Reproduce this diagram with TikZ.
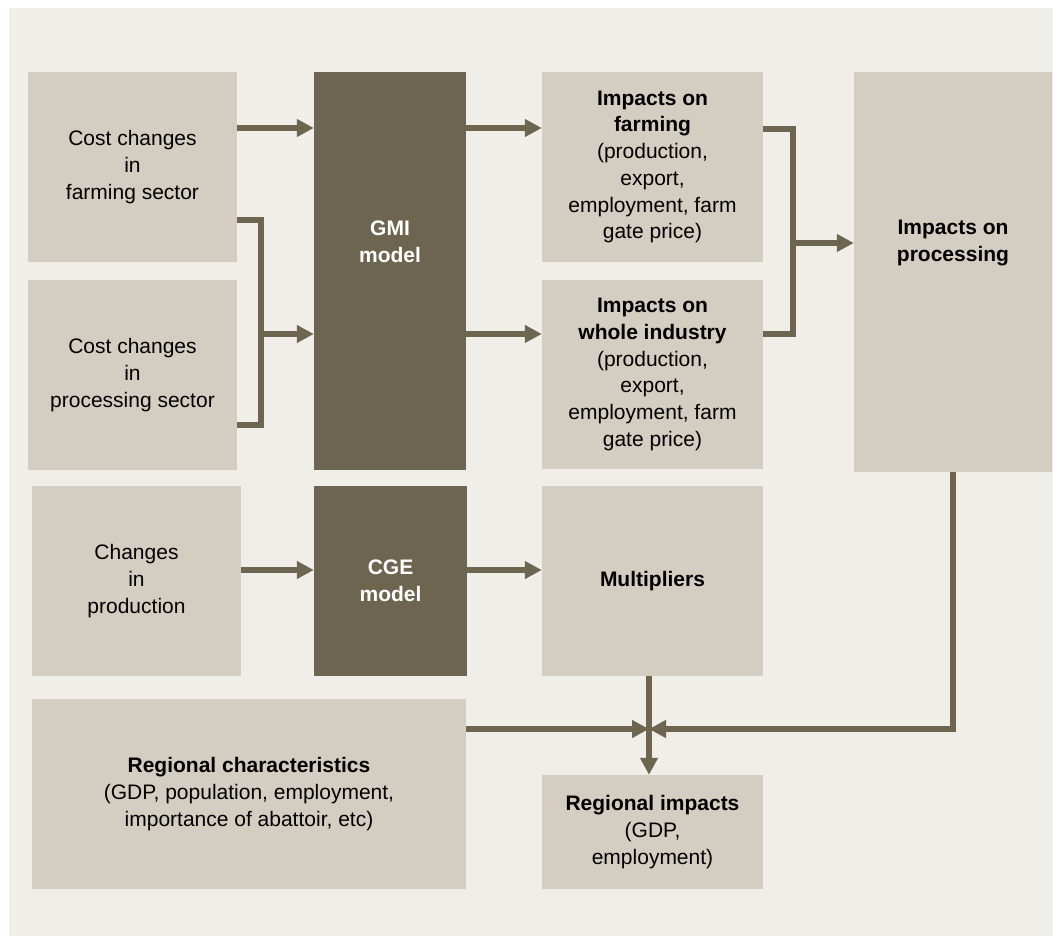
\documentclass[tikz,border=0pt]{standalone}
\usepackage{fontspec}
\setmainfont{Liberation Sans}
\usetikzlibrary{arrows.meta}
\definecolor{bgcol}{HTML}{EFEEE9}
\definecolor{boxcol}{HTML}{D4CDC1}
\definecolor{darkcol}{HTML}{6E6550}
\tikzstyle{block} = [rectangle, fill=boxcol, align=center, inner sep=0pt, font=\fontsize{21}{26.7}\selectfont]
\tikzstyle{model} = [rectangle, fill=darkcol, align=center, inner sep=0pt, text=white, font=\fontsize{21}{26.7}\selectfont\bfseries]
\tikzstyle{arrow} = [line width=5.5pt, draw=darkcol, -{Triangle[length=17pt,width=17pt]}]
\tikzstyle{line} = [line width=5.5pt, draw=darkcol]

\begin{document}
\begin{tikzpicture}[x=1pt, y=-1pt]
			\useasboundingbox (0,0) rectangle (1053,936);
			\fill[bgcol] (9,8) rectangle (1053,936);
			
			\node[block, minimum width=209pt, minimum height=190pt] (1) at (132.5,167) {Cost changes\\in\\farming sector};
			\node[block, minimum width=209pt, minimum height=190pt] (2) at (132.5,375) {Cost changes\\in\\processing sector};
			\node[model, minimum width=152pt, minimum height=398pt] (3) at (390,271) {};
			\node[model, fill=none] (3t) at (390,242) {GMI\\model};
			\node[block, minimum width=221pt, minimum height=190pt] (4) at (652.5,167) {\textbf{Impacts on}\\\textbf{farming}\\(production,\\export,\\employment, farm\\gate price)};
			\node[block, minimum width=221pt, minimum height=189pt] (5) at (652.5,374.5) {\textbf{Impacts on}\\\textbf{whole industry}\\(production,\\export,\\employment, farm\\gate price)};
			\node[block, minimum width=198pt, minimum height=400pt] (6) at (953,272) {};
			\node[block, fill=none] (6t) at (953,243) {\textbf{Impacts on}\\\textbf{processing}};
			\node[block, minimum width=209pt, minimum height=190pt] (7) at (136.5,581) {Changes\\in\\production};
			\node[model, minimum width=153pt, minimum height=190pt] (8) at (390.5,581) {CGE\\model};
			\node[block, minimum width=221pt, minimum height=190pt] (9) at (652.5,581) {\textbf{Multipliers}};
			\node[block, minimum width=434pt, minimum height=190pt] (10) at (249,794) {\textbf{Regional characteristics}\\(GDP, population, employment,\\importance of abattoir, etc)};
			\node[block, minimum width=221pt, minimum height=114pt] (11) at (652.5,832) {\textbf{Regional impacts}\\(GDP,\\employment)};
			
			\coordinate (j1) at (261,334);
			\coordinate (j2) at (793,243);
			\coordinate (j3) at (649,729);
			
			\draw [arrow] ([yshift=39pt]1.east) -- ([yshift=39pt]1.east -| 3.west);
			\draw [line] ([yshift=-53pt]1.east) -| (j1);
			\draw [line] ([yshift=-50pt]2.east) -| (j1);
			\draw [arrow] (j1) -- (j1 -| 3.west);
			
			\draw [arrow] ([yshift=39pt]3.east |- 4.west) -- ([yshift=39pt]4.west);
			\draw [arrow] (3.east |- j1) -- (5.west |- j1);
			\draw [line] ([yshift=38pt]4.east) -| (j2);
			\draw [line] (5.east |- j1) -| (j2);
			\draw [arrow] (j2) -- (j2 -| 6.west);
			
			\draw [arrow] ([yshift=11pt]7.east) -- ([yshift=11pt]8.west);
			\draw [arrow] ([yshift=11pt]8.east) -- ([yshift=11pt]9.west);
			\draw [arrow] (9.south -| j3) -- (11.north -| j3);
			\draw [arrow] (10.east |- j3) -- (j3);
			\draw [arrow] (6.south) |- (j3);
			
		\end{tikzpicture}
\end{document}
